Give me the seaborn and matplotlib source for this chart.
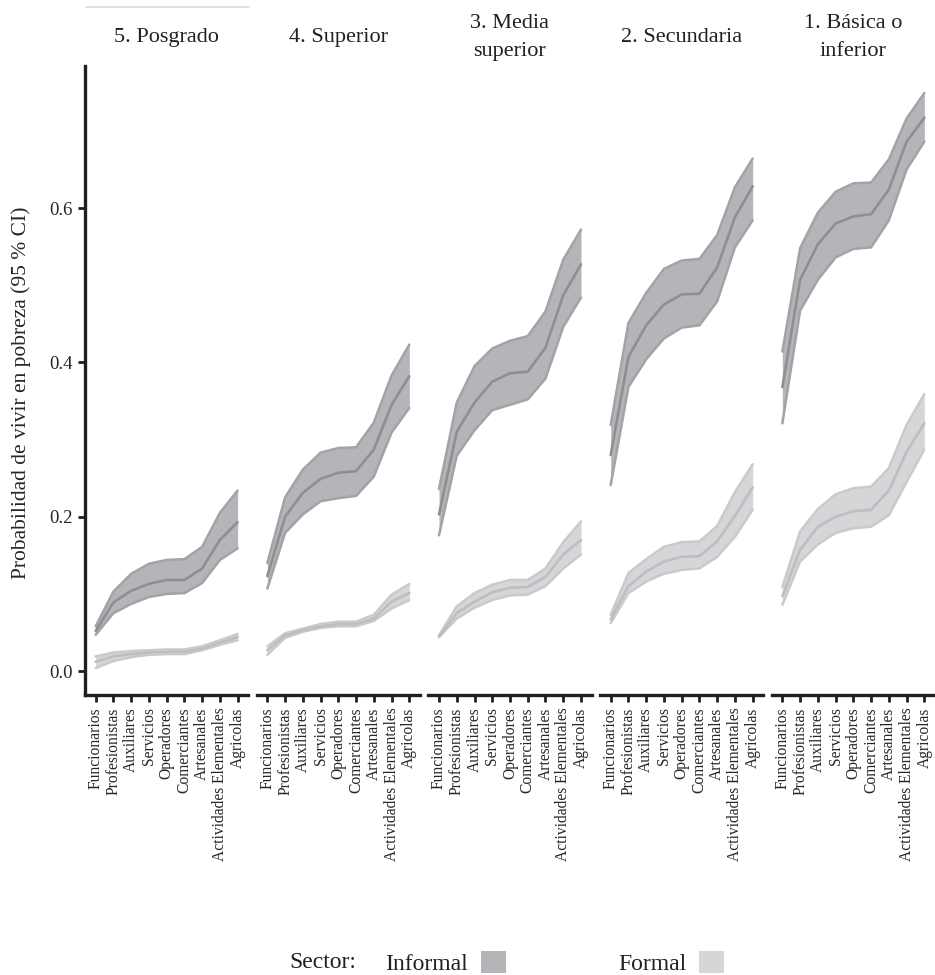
import numpy as np
import pandas as pd
import matplotlib
matplotlib.use("Agg")
import matplotlib.pyplot as plt
import seaborn as sns
from matplotlib.patches import Patch
from matplotlib.lines import Line2D

# ---------- datos ----------
niveles = ["5. Posgrado", "4. Superior", "3. Media\nsuperior",
           "2. Secundaria", "1. Básica o\ninferior"]
ocupaciones = ["Funcionarios", "Profesionistas", "Auxiliares", "Servicios",
               "Operadores", "Comerciantes", "Artesanales",
               "Actividades Elementales", "Agricolas"]
sectores = ["Informal", "Formal"]

# informal: media, limite inferior, limite superior (por nivel)
inf_media = [
    [0.052, 0.089, 0.104, 0.113, 0.118, 0.118, 0.133, 0.170, 0.193],
    [0.123, 0.200, 0.231, 0.249, 0.257, 0.259, 0.287, 0.345, 0.382],
    [0.203, 0.310, 0.348, 0.375, 0.386, 0.388, 0.419, 0.487, 0.527],
    [0.280, 0.407, 0.448, 0.475, 0.488, 0.489, 0.523, 0.588, 0.628],
    [0.368, 0.507, 0.553, 0.580, 0.589, 0.592, 0.624, 0.686, 0.717],
]
inf_lo = [
    [0.047, 0.075, 0.087, 0.096, 0.100, 0.101, 0.114, 0.144, 0.159],
    [0.107, 0.179, 0.203, 0.220, 0.224, 0.227, 0.252, 0.309, 0.341],
    [0.176, 0.279, 0.312, 0.338, 0.345, 0.352, 0.379, 0.446, 0.484],
    [0.241, 0.368, 0.404, 0.431, 0.445, 0.448, 0.479, 0.549, 0.584],
    [0.321, 0.467, 0.507, 0.536, 0.547, 0.549, 0.584, 0.650, 0.686],
]
inf_hi = [
    [0.058, 0.103, 0.126, 0.139, 0.144, 0.145, 0.161, 0.205, 0.234],
    [0.140, 0.225, 0.261, 0.283, 0.289, 0.290, 0.322, 0.383, 0.423],
    [0.236, 0.348, 0.395, 0.418, 0.428, 0.434, 0.466, 0.533, 0.572],
    [0.319, 0.451, 0.490, 0.521, 0.532, 0.534, 0.565, 0.627, 0.664],
    [0.414, 0.548, 0.594, 0.621, 0.632, 0.633, 0.663, 0.716, 0.749],
]
# formal
for_media = [
    [0.012, 0.019, 0.022, 0.024, 0.025, 0.025, 0.029, 0.037, 0.044],
    [0.027, 0.046, 0.053, 0.058, 0.061, 0.061, 0.068, 0.090, 0.101],
    [0.045, 0.075, 0.090, 0.102, 0.108, 0.109, 0.122, 0.151, 0.170],
    [0.067, 0.110, 0.129, 0.142, 0.148, 0.149, 0.168, 0.201, 0.238],
    [0.097, 0.157, 0.187, 0.200, 0.207, 0.209, 0.234, 0.284, 0.321],
]
for_lo = [
    [0.004, 0.013, 0.018, 0.021, 0.022, 0.022, 0.027, 0.034, 0.040],
    [0.021, 0.043, 0.051, 0.056, 0.058, 0.058, 0.065, 0.081, 0.092],
    [0.044, 0.068, 0.082, 0.092, 0.098, 0.099, 0.110, 0.133, 0.151],
    [0.062, 0.101, 0.116, 0.126, 0.131, 0.133, 0.148, 0.174, 0.209],
    [0.086, 0.142, 0.164, 0.179, 0.185, 0.187, 0.202, 0.245, 0.287],
]
for_hi = [
    [0.019, 0.024, 0.026, 0.027, 0.028, 0.028, 0.032, 0.040, 0.048],
    [0.032, 0.049, 0.055, 0.061, 0.064, 0.064, 0.073, 0.099, 0.113],
    [0.046, 0.084, 0.101, 0.112, 0.118, 0.118, 0.133, 0.167, 0.194],
    [0.073, 0.127, 0.145, 0.161, 0.167, 0.168, 0.188, 0.232, 0.268],
    [0.109, 0.181, 0.210, 0.229, 0.237, 0.239, 0.263, 0.319, 0.359],
]

filas = []
for i, nivel in enumerate(niveles):
    for sector, m, lo, hi in [("Informal", inf_media, inf_lo, inf_hi),
                              ("Formal", for_media, for_lo, for_hi)]:
        for j, oc in enumerate(ocupaciones):
            filas.append(dict(nivel=nivel, sector=sector, pos=j, ocupacion=oc,
                              media=m[i][j], inf=lo[i][j], sup=hi[i][j]))
df = pd.DataFrame(filas)

# ---------- estilo ----------
sns.set_theme(style="white")
plt.rcParams["font.family"] = ["Liberation Serif", "DejaVu Serif"]
plt.rcParams["text.color"] = "#231f20"

relleno = {"Informal": "#b4b5b9", "Formal": "#d5d6d8"}
borde = {"Informal": "#a2a3a7", "Formal": "#c9cacc"}
linea = {"Informal": "#8e8f93", "Formal": "#bdbec1"}

fig, axes = plt.subplots(1, 5, figsize=(9.35, 9.75), dpi=100, sharey=True)
fig.subplots_adjust(left=85/935, right=1.0, bottom=280/975, top=909/975,
                    wspace=0.0514)

for i, (ax, nivel) in enumerate(zip(axes, niveles)):
    sub = df[df.nivel == nivel]
    for k, sector in enumerate(["Formal", "Informal"]):
        s = sub[sub.sector == sector]
        ax.fill_between(s.pos, s.inf, s.sup, color=relleno[sector],
                        lw=0, zorder=1 + k)
    for col in ["inf", "sup"]:
        sns.lineplot(data=sub, x="pos", y=col, hue="sector",
                     hue_order=sectores, palette=borde, legend=False,
                     lw=1.8, ax=ax, zorder=3)
    sns.lineplot(data=sub, x="pos", y="media", hue="sector",
                 hue_order=sectores, palette=linea, legend=False,
                 lw=1.9, ax=ax, zorder=4)

    ax.set_xlim(-0.6, len(ocupaciones) - 0.4)
    ax.set_ylim(-0.031, 0.784)
    ax.set_xticks(range(len(ocupaciones)))
    ax.set_xticklabels(ocupaciones, rotation=90, va="top", ha="center",
                       fontsize=11.2)
    ax.set_xlabel("")
    ax.set_ylabel("")
    ax.tick_params(axis="x", length=5, width=2, color="#231f20", pad=4,
                   bottom=True)
    for lado in ["top", "right"]:
        ax.spines[lado].set_visible(False)
    ax.spines["bottom"].set_linewidth(2.4)
    ax.spines["bottom"].set_color("#231f20")
    if i == 0:
        ax.spines["left"].set_linewidth(2.4)
        ax.spines["left"].set_color("#231f20")
        ax.set_yticks([0, 0.2, 0.4, 0.6])
        ax.set_yticklabels(["0.0", "0.2", "0.4", "0.6"], fontsize=13.5)
        ax.tick_params(axis="y", length=5, width=2, color="#231f20", pad=4,
                       left=True)
    else:
        ax.spines["left"].set_visible(False)
        ax.tick_params(axis="y", left=False, labelleft=False)
    ax.text(0.5, 1.046, nivel, transform=ax.transAxes, ha="center",
            va="center", fontsize=16, linespacing=1.65)

axes[0].set_ylabel("Probabilidad de vivir en pobreza (95 % CI)", fontsize=15.5)
axes[0].yaxis.set_label_coords(-0.33, 0.48)

# linea gris superior
fig.add_artist(Line2D([86/935, 249/935], [1 - 7/975] * 2,
                      color="#d9d9d9", lw=1.2))

# leyenda
fig.text(289/935, 1 - 962/975, "Sector:", ha="left", va="center", fontsize=17)
handles = [Patch(facecolor=relleno[s], edgecolor="none") for s in sectores]
fig.legend(handles, sectores, ncol=2, markerfirst=False, frameon=False,
           loc="center left", bbox_to_anchor=(385/935, 1 - 963/975),
           fontsize=17, handlelength=1.06, handleheight=1.06,
           handletextpad=0.55, columnspacing=4.75, borderpad=0,
           borderaxespad=0)

fig.savefig("out.png", dpi=100)
